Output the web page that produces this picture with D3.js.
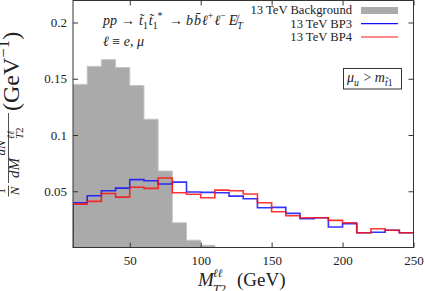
<!DOCTYPE html>
<html><head><meta charset="utf-8">
<script src="https://cdn.jsdelivr.net/npm/d3@7"></script>
<style>
html,body{margin:0;padding:0;background:#fff;overflow:hidden}
svg{display:block}
text{font-family:"Liberation Serif","Times New Roman",serif;fill:#222}
</style></head><body>
<svg id="chart" width="425" height="291"></svg>
<script>
// ---- data ----
const binEdges = [10,20,30,40,50,60,70,80,90,100,110,120,130,140,150,160,170,180,190,200,210,220,230,240,250];
const background = [0.145,0.161,0.167,0.160,0.144,0.114,0.068,0.022,0.0065,0.002,0,0,0,0,0,0,0,0,0,0,0,0,0,0];
const bp3 = [0.0398,0.046,0.0505,0.0528,0.0603,0.0593,0.0564,0.0581,0.0493,0.049,0.0487,0.0457,0.0434,0.0354,0.0357,0.0303,0.0256,0.0265,0.0182,0.0211,0.0131,0.0135,0.0153,0.0131];
const bp4 = [0.0386,0.041,0.048,0.0448,0.0535,0.0526,0.0618,0.0487,0.0474,0.0442,0.051,0.0505,0.0475,0.0398,0.0318,0.0282,0.0265,0.0265,0.0241,0.022,0.0131,0.0167,0.0153,0.0131];
const xTicks = [50,100,150,200,250];
const yTicks = [0.05,0.1,0.15,0.2];
const yTickLabels = ["0.05","0.1","0.15","0.2"];
const legendLabels = ["13 TeV Background","13 TeV BP3","13 TeV BP4"];
const seriesColors = ["#aaaaaa","#1010ff","#ff1010"];

// ---- layout ----
const L = 73, R = 413.5, T = 0.5, B = 247.5;
const svg = d3.select("#chart");
const x = d3.scaleLinear().domain([10,250]).range([L,R]);
const y = d3.scaleLinear().domain([0,0.22]).range([B,0]);

svg.append("defs").append("clipPath").attr("id","clip")
  .append("rect").attr("x",L).attr("y",T).attr("width",R-L).attr("height",B-T);

const plot = svg.append("g").attr("clip-path","url(#clip)");

function stepPoints(vals){
  const pts = [[binEdges[0],0]];
  vals.forEach((v,i)=>pts.push([binEdges[i],v]));
  pts.push([binEdges[binEdges.length-1], vals[vals.length-1]]);
  return pts;
}

// background histogram
const area = d3.area().curve(d3.curveStepAfter)
  .x(d=>x(d[0])).y0(y(0)).y1(d=>y(d[1]));
const bgPts = background.map((v,i)=>[binEdges[i],v]);
bgPts.push([binEdges[binEdges.length-1], 0]);
plot.append("path").datum(bgPts).attr("d",area)
  .attr("fill",seriesColors[0]).attr("stroke","#c4c4c4").attr("stroke-width",1);

const line = d3.line().curve(d3.curveStepAfter).x(d=>x(d[0])).y(d=>y(d[1]));
plot.append("path").datum(stepPoints(bp3)).attr("d",line)
  .attr("fill","none").attr("stroke",seriesColors[1]).attr("stroke-width",1.6).attr("stroke-opacity",0.85);
plot.append("path").datum(stepPoints(bp4)).attr("d",line)
  .attr("fill","none").attr("stroke",seriesColors[2]).attr("stroke-width",1.6).attr("stroke-opacity",0.85);

// axes
const axCol = "#333";
function styleAxis(g){
  g.select(".domain").remove();
  g.selectAll(".tick line").attr("stroke",axCol);
  g.selectAll(".tick text").attr("font-family","Liberation Serif, serif").attr("font-size",13).attr("fill","#222");
}
svg.append("g").attr("transform",`translate(0,${B})`)
  .call(d3.axisBottom(x).tickValues(xTicks).tickSizeInner(-5).tickSizeOuter(0).tickPadding(8).tickFormat(d=>String(d)))
  .call(styleAxis);
svg.append("g").attr("transform",`translate(0,${T})`)
  .call(d3.axisTop(x).tickValues(xTicks).tickSizeInner(-5).tickSizeOuter(0).tickFormat(""))
  .call(styleAxis);
svg.append("g").attr("transform",`translate(${L},0)`)
  .call(d3.axisLeft(y).tickValues(yTicks).tickSizeInner(-5).tickSizeOuter(0).tickPadding(6).tickFormat((d,i)=>yTickLabels[i]))
  .call(styleAxis);
svg.append("g").attr("transform",`translate(${R},0)`)
  .call(d3.axisRight(y).tickValues(yTicks).tickSizeInner(-5).tickSizeOuter(0).tickFormat(""))
  .call(styleAxis);

svg.append("rect").attr("x",L).attr("y",T).attr("width",R-L).attr("height",B-T)
  .attr("fill","none").attr("stroke",axCol).attr("stroke-width",1);

// rich text helper
function rich(parent, px, py, parts, size, anchor){
  const t = parent.append("text").attr("x",px).attr("y",py).attr("font-size",size);
  if (anchor) t.attr("text-anchor",anchor);
  let cur = 0;
  parts.forEach(p=>{
    const shift = p.pos==="sub" ? 0.28*size : p.pos==="sup" ? -0.42*size : 0;
    const ts = t.append("tspan").text(p.t).attr("dy", shift-cur);
    if (p.pos) ts.attr("font-size", size*0.7);
    if (p.i) ts.attr("font-style","italic");
    if (p.dx) ts.attr("dx", p.dx);
    cur = shift;
  });
  return t;
}

// legend
const lx = 352;
const rowsY = [14, 27.5, 40.5];
legendLabels.forEach((lab,i)=>{
  svg.append("text").attr("x",lx).attr("y",rowsY[i]).attr("text-anchor","end")
    .attr("font-size",12.6).text(lab);
});
svg.append("rect").attr("x",361).attr("y",7).attr("width",37).attr("height",7).attr("fill",seriesColors[0]);
svg.append("line").attr("x1",361).attr("x2",398).attr("y1",23.7).attr("y2",23.7).attr("stroke",seriesColors[1]).attr("stroke-width",1.2);
svg.append("line").attr("x1",361).attr("x2",398).attr("y1",37).attr("y2",37).attr("stroke",seriesColors[2]).attr("stroke-width",1.2);

// box annotation
svg.append("rect").attr("x",343.5).attr("y",68.5).attr("width",58).attr("height",20.5)
  .attr("fill","#fff").attr("stroke",axCol).attr("stroke-width",1);
rich(svg, 347, 82, [
  {t:"μ",i:1},{t:"u",i:1,pos:"sub"},{t:" > ",dx:1},{t:"m",i:1},{t:"t̃",i:1,pos:"sub"},{t:"1",pos:"sub"}
], 14);

// process annotation
rich(svg, 103, 25, [{t:"pp",i:1}], 14);
rich(svg, 121, 25, [{t:"→"}], 14);
rich(svg, 139, 25, [{t:"t̃",i:1},{t:"1",pos:"sub"},{t:"t̃",i:1,dx:1},{t:"1",pos:"sub"},{t:"*",pos:"sup"}], 14);
rich(svg, 169, 25, [{t:"→"}], 14);
rich(svg, 186, 25, [{t:"b",i:1},{t:"b̄",i:1,dx:1},{t:"ℓ",i:1,dx:1},{t:"+",pos:"sup"},{t:"ℓ",i:1,dx:1},{t:"−",pos:"sup"},{t:"E̸",i:1,dx:3},{t:"T",i:1,pos:"sub"}], 14);
rich(svg, 103, 46, [{t:"ℓ",i:1},{t:" ≡ "},{t:"e",i:1},{t:", "},{t:"μ",i:1}], 14);

// x label
rich(svg, 198, 286, [{t:"M",i:1}], 19);
rich(svg, 213, 277, [{t:"ℓℓ",i:1}], 11.5);
rich(svg, 213, 293, [{t:"T",i:1},{t:"2"}], 12.5);
rich(svg, 237, 286, [{t:"(GeV)"}], 19);

// y label (rotated)
const yl = svg.append("g").attr("transform","translate(0,197) rotate(-90)");
yl.append("text").attr("x",6).attr("y",5).attr("text-anchor","middle").attr("font-size",13).text("1");
yl.append("line").attr("x1",0.5).attr("x2",11.5).attr("y1",8.5).attr("y2",8.5).attr("stroke","#222").attr("stroke-width",0.8);
yl.append("text").attr("x",6).attr("y",19).attr("text-anchor","middle").attr("font-size",13).attr("font-style","italic").text("N");
yl.append("text").attr("x",49).attr("y",5).attr("text-anchor","middle").attr("font-size",13).attr("font-style","italic").text("dN");
yl.append("line").attr("x1",14).attr("x2",84).attr("y1",8.5).attr("y2",8.5).attr("stroke","#222").attr("stroke-width",0.8);
rich(yl, 19, 19, [{t:"dM",i:1}], 15);
rich(yl, 58, 14, [{t:"ℓℓ",i:1}], 10);
rich(yl, 58, 23, [{t:"T",i:1},{t:"2"}], 11);
rich(yl, 86, 19, [{t:"(GeV"},{t:"−1",pos:"sup"},{t:")"}], 24);
</script>
</body></html>
